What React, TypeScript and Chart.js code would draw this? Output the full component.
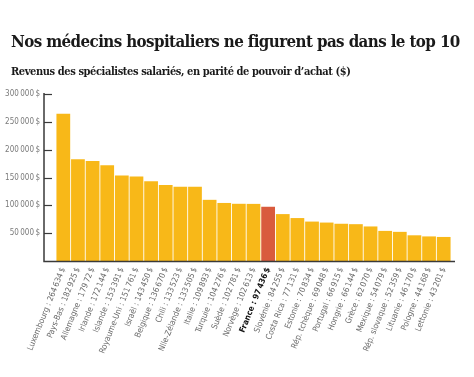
import React, { useEffect, useRef } from 'react';
import { Chart, registerables } from 'chart.js';

Chart.register(...registerables);

const labels = [
  'Luxembourg : 264 634 $',
  'Pays-Bas : 182 925 $',
  'Allemagne : 179 72 $',
  'Irlande : 172 144 $',
  'Islande : 153 391 $',
  'Royaume-Uni : 151 761 $',
  'Israël : 143 450 $',
  'Belgique : 136 670 $',
  'Chili : 133 523 $',
  'Nlle-Zélande : 133 505 $',
  'Italie : 109 893 $',
  'Turquie : 104 276 $',
  'Suède : 102 781 $',
  'Norvège : 102 613 $',
  'France : 97 436 $',
  'Slovénie : 84 255 $',
  'Costa Rica : 77 131 $',
  'Estonie : 70 834 $',
  'Rép. tchèque : 69 048 $',
  'Portugal : 66 915 $',
  'Hongrie : 66 144 $',
  'Grèce : 62 070 $',
  'Mexique : 54 079 $',
  'Rép. slovaque : 52 359 $',
  'Lituanie : 46 170 $',
  'Pologne : 44 168 $',
  'Lettonie : 43 201 $',
];

const values = [
  264634, 182925, 179720, 172144, 153391, 151761, 143450, 136670, 133523, 133505,
  109893, 104276, 102781, 102613, 97436, 84255, 77131, 70834, 69048, 66915,
  66144, 62070, 54079, 52359, 46170, 44168, 43201,
];

const yTickValues = [50000, 100000, 150000, 200000, 250000, 300000];
const highlightIndex = 14;

const BAR = '#F8B818';
const HIGHLIGHT = '#D95B3D';
const AXIS = '#3a3a3a';
const NARROW = '"Liberation Sans Narrow", "Arial Narrow", "DejaVu Sans Condensed", sans-serif';

const fmt = (v: number) => {
  const s = String(Math.round(v));
  return s.replace(/\B(?=(\d{3})+(?!\d))/g, '\u2009') + '\u2009$';
};

const axisPlugin = {
  id: 'customAxis',
  afterDraw(chart: any) {
    const { ctx, chartArea, scales } = chart;
    const y = scales.y;
    const ax = chartArea.left - 12;
    const base = y.getPixelForValue(0) + 0.5;
    ctx.save();
    ctx.strokeStyle = AXIS;
    ctx.lineWidth = 1.5;
    ctx.beginPath();
    ctx.moveTo(ax, y.getPixelForValue(300000) - 1);
    ctx.lineTo(ax, base);
    ctx.lineTo(chartArea.right + 4, base);
    ctx.stroke();
    ctx.lineWidth = 1.2;
    yTickValues.forEach((v) => {
      const py = Math.round(y.getPixelForValue(v)) + 0.5;
      ctx.beginPath();
      ctx.moveTo(ax, py);
      ctx.lineTo(ax + 8, py);
      ctx.stroke();
    });
    ctx.restore();
  },
};

export default function App() {
  const ref = useRef<HTMLCanvasElement>(null);

  useEffect(() => {
    if (!ref.current) return;
    const chart = new Chart(ref.current, {
      type: 'bar',
      data: {
        labels: labels.map((l) => l.replace(/(\d) (\d)/g, '$1\u2009$2').replace(/ \$/g, '\u2009$')),
        datasets: [
          {
            data: values,
            backgroundColor: values.map((_, i) => (i === highlightIndex ? HIGHLIGHT : BAR)),
            borderWidth: 0,
            barPercentage: 0.94,
            categoryPercentage: 1,
          },
        ],
      },
      options: {
        animation: false,
        responsive: false,
        maintainAspectRatio: false,
        layout: { padding: { top: 94, right: 23, left: 0, bottom: 0 } },
        plugins: { legend: { display: false }, tooltip: { enabled: false }, title: { display: false } },
        scales: {
          x: {
            offset: true,
            grid: { display: false, drawTicks: false },
            border: { display: false },
            afterFit: (s: any) => {
              s.height = 116;
            },
            ticks: {
              autoSkip: false,
              maxRotation: 68,
              minRotation: 68,
              padding: 5,
              color: (c: any) => (c.index === highlightIndex ? '#111' : '#6a6a6a'),
              font: (c: any) => ({
                family: NARROW,
                size: 8.2,
                weight: c.index === highlightIndex ? 'bold' : 'normal',
              }),
            },
          },
          y: {
            min: 0,
            max: 300000,
            grid: { display: false, drawTicks: false },
            border: { display: false },
            afterFit: (s: any) => {
              s.width = 56;
            },
            ticks: {
              stepSize: 50000,
              padding: 16,
              color: '#7a7a7a',
              font: { family: NARROW, size: 8 },
              callback: (v: any) => (v === 0 ? '' : fmt(Number(v))),
            },
          },
        },
      },
      plugins: [axisPlugin],
    });
    return () => chart.destroy();
  }, []);

  return (
    <div style={{ position: 'absolute', left: 0, top: 0, width: 474, height: 377, background: '#fff' }}>
      <canvas ref={ref} width={474} height={377} style={{ position: 'absolute', left: 0, top: 0 }} />
      <div
        style={{
          position: 'absolute',
          left: 11,
          top: 31,
          fontFamily: '"DejaVu Serif Condensed", "DejaVu Serif", serif',
          fontWeight: 'bold',
          fontSize: 16.8,
          letterSpacing: -0.6,
          color: '#1a1a1a',
          whiteSpace: 'nowrap',
          lineHeight: '20px',
        }}
      >
        Nos médecins hospitaliers ne figurent pas dans le top 10
      </div>
      <div
        style={{
          position: 'absolute',
          left: 11,
          top: 65,
          fontFamily: '"DejaVu Serif Condensed", "DejaVu Serif", serif',
          fontWeight: 'bold',
          fontSize: 11,
          letterSpacing: -0.4,
          color: '#1a1a1a',
          whiteSpace: 'nowrap',
          lineHeight: '14px',
        }}
      >
        Revenus des spécialistes salariés, en parité de pouvoir d’achat ($)
      </div>
    </div>
  );
}
